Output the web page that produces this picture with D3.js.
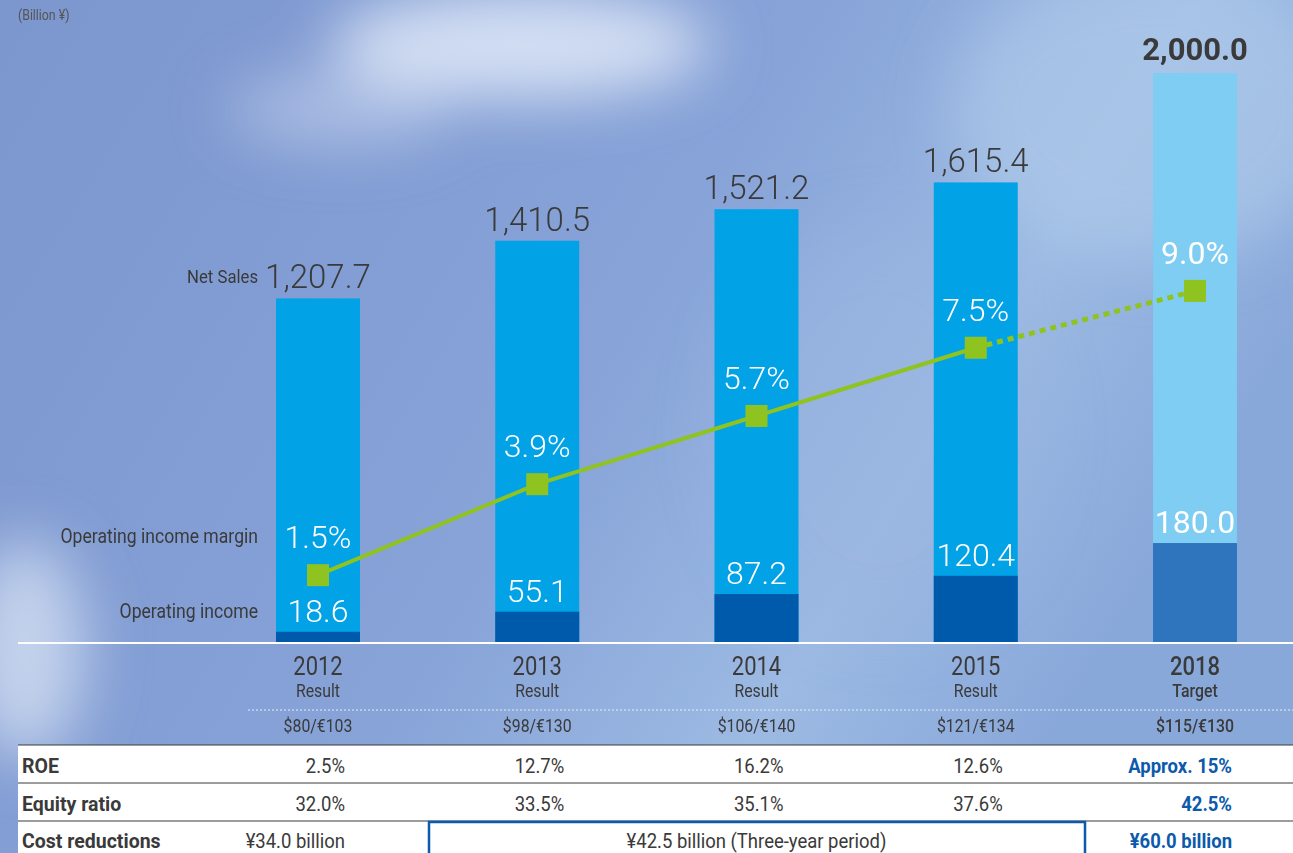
<!DOCTYPE html>
<html>
<head>
<meta charset="utf-8">
<script src="https://cdn.jsdelivr.net/npm/d3@7"></script>
<style>
  html, body { margin: 0; padding: 0; background: #7d97cf; }
  svg { display: block; }
  text { font-family: "Roboto", "Liberation Sans", sans-serif; }
</style>
</head>
<body>
<svg id="chart" width="1293" height="853"></svg>
<script>
// chart data
var years = ["2012", "2013", "2014", "2015", "2018"];
var periodLabels = ["Result", "Result", "Result", "Result", "Target"];
var netSales = [1207.7, 1410.5, 1521.2, 1615.4, 2000.0];
var opIncome = [18.6, 55.1, 87.2, 120.4, 180.0];
var opMargin = [1.5, 3.9, 5.7, 7.5, 9.0];
var fxRates = ["$80/€103", "$98/€130", "$106/€140", "$121/€134", "$115/€130"];
var roe = ["2.5%", "12.7%", "16.2%", "12.6%", "Approx. 15%"];
var equityRatio = ["32.0%", "33.5%", "35.1%", "37.6%", "42.5%"];
var costReductions = ["¥34.0 billion", "¥42.5 billion (Three-year period)", "¥60.0 billion"];

var fmt = d3.format(",.1f");
var svg = d3.select("#chart");
var W = 1293, H = 853;
var baseY = 642;

// background sky
var defs = svg.append("defs");
var sky = defs.append("linearGradient").attr("id", "sky").attr("x1", 0).attr("y1", 0).attr("x2", 1).attr("y2", 0.4);
sky.append("stop").attr("offset", "0%").attr("stop-color", "#7c96ce");
sky.append("stop").attr("offset", "55%").attr("stop-color", "#87a3d8");
sky.append("stop").attr("offset", "80%").attr("stop-color", "#9cbae3");
sky.append("stop").attr("offset", "100%").attr("stop-color", "#89a8da");
defs.append("filter").attr("id", "blur").attr("x", "-50%").attr("y", "-50%").attr("width", "200%").attr("height", "200%")
  .append("feGaussianBlur").attr("stdDeviation", 30);

svg.append("rect").attr("width", W).attr("height", H).attr("fill", "url(#sky)");
var clouds = svg.append("g").attr("filter", "url(#blur)");
clouds.append("ellipse").attr("cx", 520).attr("cy", 45).attr("rx", 190).attr("ry", 55).attr("fill", "#e2eaf8").attr("opacity", 0.85);
clouds.append("ellipse").attr("cx", 340).attr("cy", 110).attr("rx", 110).attr("ry", 35).attr("fill", "#c6d4ef").attr("opacity", 0.6);
clouds.append("ellipse").attr("cx", 1150).attr("cy", 110).attr("rx", 200).attr("ry", 150).attr("fill", "#b0cbeb").attr("opacity", 0.6);
clouds.append("ellipse").attr("cx", 25).attr("cy", 650).attr("rx", 60).attr("ry", 110).attr("fill", "#d5e0f3").attr("opacity", 0.8);
clouds.append("ellipse").attr("cx", 880).attr("cy", 430).attr("rx", 160).attr("ry", 200).attr("fill", "#9ab6e1").attr("opacity", 0.5);

// scales
var x = d3.scaleBand().domain(years).range([221.2, 1291.8]).paddingInner(0.617).paddingOuter(0.25);
var ySales = d3.scaleLinear().domain([0, 2000]).range([baseY, 73]);
var yOp = d3.scaleLinear().domain([0, 1035]).range([baseY, 73]);
var yMargin = d3.scaleLinear().domain([0, 14.75]).range([632, 73]);
function cx(i) { return x(years[i]) + x.bandwidth() / 2; }
var isTarget = function(i) { return i === years.length - 1; };

// condensed text helper (no narrow font installed)
function ntext(parent, px, py, str, opts) {
  var t = parent.append("g").attr("transform", "translate(" + px + "," + py + ") scale(" + (opts.sx || 0.88) + ",1)")
    .append("text")
    .attr("text-anchor", opts.anchor || "start")
    .attr("font-size", opts.size || 20)
    .attr("font-weight", opts.weight || 400)
    .attr("fill", opts.fill || "#3a3a3a")
    .text(str);
  return t;
}

// bars
var g = svg.append("g");
g.selectAll("rect.sales").data(netSales).enter().append("rect")
  .attr("class", "sales")
  .attr("x", function(d, i) { return x(years[i]); })
  .attr("y", function(d) { return ySales(d); })
  .attr("width", x.bandwidth())
  .attr("height", function(d) { return baseY - ySales(d); })
  .attr("fill", function(d, i) { return isTarget(i) ? "#7fcdf3" : "#02a2e7"; });

g.selectAll("rect.op").data(opIncome).enter().append("rect")
  .attr("class", "op")
  .attr("x", function(d, i) { return x(years[i]); })
  .attr("y", function(d) { return yOp(d); })
  .attr("width", x.bandwidth())
  .attr("height", function(d) { return baseY - yOp(d); })
  .attr("fill", function(d, i) { return isTarget(i) ? "#2f75be" : "#005aac"; });

// net sales labels
g.selectAll("text.sales").data(netSales).enter().append("text")
  .attr("x", function(d, i) { return cx(i); })
  .attr("y", function(d, i) { return ySales(d) - (isTarget(i) ? 13 : 10); })
  .attr("text-anchor", "middle")
  .attr("font-size", function(d, i) { return isTarget(i) ? 31 : 33; })
  .attr("font-weight", function(d, i) { return isTarget(i) ? 700 : 300; })
  .attr("fill", "#3a3a3a")
  .text(function(d) { return fmt(d); });

// operating income labels
g.selectAll("text.op").data(opIncome).enter().append("text")
  .attr("x", function(d, i) { return cx(i); })
  .attr("y", function(d) { return yOp(d) - 10; })
  .attr("text-anchor", "middle")
  .attr("font-size", 32)
  .attr("font-weight", function(d, i) { return isTarget(i) ? 400 : 300; })
  .attr("fill", "#ffffff")
  .text(function(d) { return fmt(d); });

// margin line
var pts = opMargin.map(function(d, i) { return [cx(i), yMargin(d)]; });
var line = d3.line();
g.append("path").attr("d", line(pts.slice(0, 4)))
  .attr("fill", "none").attr("stroke", "#8fc31f").attr("stroke-width", 4);
g.append("path").attr("d", line(pts.slice(3)))
  .attr("fill", "none").attr("stroke", "#8fc31f").attr("stroke-width", 5)
  .attr("stroke-dasharray", "6,5");
g.selectAll("rect.pt").data(pts).enter().append("rect")
  .attr("x", function(d) { return d[0] - 11; })
  .attr("y", function(d) { return d[1] - 11; })
  .attr("width", 22).attr("height", 22)
  .attr("fill", "#8fc31f");
g.selectAll("text.margin").data(opMargin).enter().append("text")
  .attr("x", function(d, i) { return cx(i); })
  .attr("y", function(d) { return yMargin(d) - 27; })
  .attr("text-anchor", "middle")
  .attr("font-size", 32)
  .attr("font-weight", function(d, i) { return isTarget(i) ? 400 : 300; })
  .attr("fill", "#ffffff")
  .text(function(d) { return d.toFixed(1) + "%"; });

// side labels
var lx = x(years[0]) - 18;
ntext(svg, lx, ySales(netSales[0]) - 15, "Net Sales", { anchor: "end", size: 19 });
ntext(svg, lx, yMargin(opMargin[0]) - 32, "Operating income margin", { anchor: "end", size: 20 });
ntext(svg, lx, yOp(opIncome[0]) - 14, "Operating income", { anchor: "end", size: 20 });
ntext(svg, 18, 20, "(Billion ¥)", { size: 14, fill: "#555" });

// baseline
svg.append("line").attr("x1", 18).attr("x2", W).attr("y1", baseY + 1).attr("y2", baseY + 1)
  .attr("stroke", "#ffffff").attr("stroke-width", 2);

// year header
var hdr = svg.append("g");
years.forEach(function(yr, i) {
  ntext(hdr, cx(i), 675, yr, { anchor: "middle", size: 25, weight: isTarget(i) ? 500 : 400 });
  ntext(hdr, cx(i), 697, periodLabels[i], { anchor: "middle", size: 18, weight: isTarget(i) ? 500 : 400 });
  ntext(hdr, cx(i), 732, fxRates[i], { anchor: "middle", size: 18, weight: isTarget(i) ? 500 : 400 });
});
hdr.append("line").attr("x1", 248).attr("x2", W).attr("y1", 710).attr("y2", 710)
  .attr("stroke", "#e6ecf8").attr("stroke-width", 1).attr("stroke-dasharray", "2,2");

// table
var tbl = svg.append("g");
tbl.append("rect").attr("x", 18).attr("y", 745).attr("width", W - 18).attr("height", H - 745).attr("fill", "#ffffff");
[745, 783, 821].forEach(function(yy) {
  tbl.append("line").attr("x1", 18).attr("x2", W).attr("y1", yy).attr("y2", yy)
    .attr("stroke", "#3a3a3a").attr("stroke-width", 1.2);
});
var rows = [["ROE", roe, 773], ["Equity ratio", equityRatio, 811]];
function valX(i) { return cx(i) + (isTarget(i) ? 37 : 27); }
rows.forEach(function(r) {
  ntext(tbl, 22, r[2], r[0], { size: 21, weight: 700, sx: 0.93 });
  r[1].forEach(function(v, i) {
    ntext(tbl, valX(i), r[2], v, { anchor: "end", size: 21, weight: isTarget(i) ? 700 : 400,
      fill: isTarget(i) ? "#0b5aab" : "#3a3a3a" });
  });
});
ntext(tbl, 22, 848, "Cost reductions", { size: 21, weight: 700, sx: 0.93 });
ntext(tbl, valX(0), 848, costReductions[0], { anchor: "end", size: 21 });
tbl.append("rect").attr("x", 429).attr("y", 822).attr("width", 656).attr("height", 40)
  .attr("fill", "none").attr("stroke", "#0b5aab").attr("stroke-width", 2.5);
ntext(tbl, cx(2), 848, costReductions[1], { anchor: "middle", size: 21 });
ntext(tbl, valX(4), 848, costReductions[2], { anchor: "end", size: 21, weight: 700, fill: "#0b5aab" });
</script>
</body>
</html>
